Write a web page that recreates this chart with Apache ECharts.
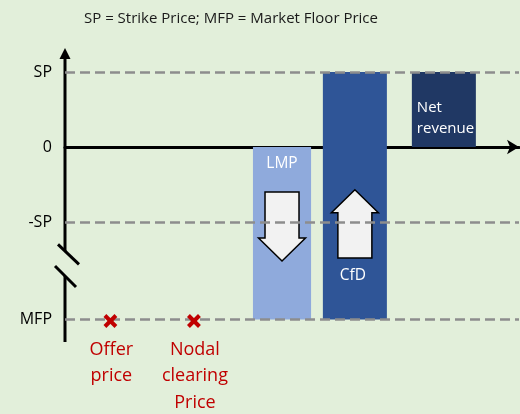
<!DOCTYPE html>
<html>
<head>
<meta charset="utf-8">
<script src="https://cdn.jsdelivr.net/npm/echarts@6/dist/echarts.min.js"></script>
<style>
  html, body { margin: 0; padding: 0; background: #e2efda; }
  #chart { width: 520px; height: 414px; }
</style>
</head>
<body>
<div id="chart"></div>
<script>
// ---------- data ----------
const chartTitle = 'SP = Strike Price; MFP = Market Floor Price';
const yTickNames = ['SP', '0', '-SP', 'MFP'];
const yTickValues = [1, 0, -1, -2.3];
const dashedLevels = [1, -1, -2.3];
const barNames = ['LMP', 'CfD', 'Net\nrevenue'];
const barLows = [-2.3, -2.3, 0];
const barHighs = [0, 1, 1];
const markerNames = ['Offer\nprice', 'Nodal\nclearing\nPrice'];
const markerValues = [-2.3, -2.3];
const arrowFrom = [-0.6, -1.48];
const arrowTo = [-1.52, -0.57];
const axisBreak = [-1.387, -1.72];

// ---------- layout (positions / styles) ----------
const yMin = -2.6, yMax = 1.32;
const barX = [[41.4, 54.2], [56.8, 70.9], [76.4, 90.5]];
const markerX = [10, 28.4];
const barColors = ['#8faadc', '#2f5597', '#203864'];
const barLabelLayout = [
  { anchor: 'top', dy: 17, dx: 0, align: 'center', size: 15.5 },
  { anchor: 'bottom', dy: -44, dx: -2, align: 'center', size: 15.5 },
  { anchor: 'top', dy: 46.5, dx: 5, align: 'left', size: 15 }
];
const FONT = '"Open Sans", "Noto Sans", sans-serif';

const chart = echarts.init(document.getElementById('chart'), null, { renderer: 'canvas' });

const barData = barNames.map((n, i) => [barX[i][0], barX[i][1], barLows[i], barHighs[i], i]);
const markerData = markerNames.map((n, i) => [markerX[i], markerValues[i], i]);
const arrowData = arrowFrom.map((f, i) => [(barX[i][0] + barX[i][1]) / 2, f, arrowTo[i], i]);

const option = {
  backgroundColor: '#e2efda',
  animation: false,
  title: {
    text: chartTitle,
    left: 79, top: 6,
    textStyle: { fontSize: 15, fontWeight: 'normal', color: '#1a1a1a', fontFamily: FONT }
  },
  grid: { left: 65, right: 1, top: 48, bottom: 72 },
  xAxis: {
    type: 'value', min: 0, max: 100,
    axisLine: { show: true, onZero: true, symbol: ['none', 'arrow'], symbolSize: [11, 12],
      lineStyle: { color: '#000', width: 3 } },
    axisTick: { show: false }, axisLabel: { show: false }, splitLine: { show: false }
  },
  yAxis: {
    type: 'value', min: yMin, max: yMax,
    axisLine: { show: false }, axisTick: { show: false }, splitLine: { show: false },
    axisLabel: {
      show: true, customValues: yTickValues, margin: 13,
      fontSize: 16, color: '#000', fontFamily: FONT,
      formatter: function (v) {
        let best = 0;
        yTickValues.forEach((t, i) => { if (Math.abs(t - v) < Math.abs(yTickValues[best] - v)) best = i; });
        return yTickNames[best];
      }
    }
  },
  series: [
    {
      type: 'line', data: [], z: 1, silent: true,
      markLine: {
        silent: true, symbol: ['none', 'none'], label: { show: false },
        lineStyle: { color: '#8d8d8d', width: 2.5, type: [10, 5] },
        data: dashedLevels.map(v => ({ yAxis: v }))
      }
    },
    {
      // y axis with break and arrow
      type: 'custom', z: 2, silent: true, clip: false,
      data: [[0, yMin]],
      encode: { x: 0, y: 1 },
      renderItem: function (params, api) {
        const b = api.coord([0, yMin]);
        const g1 = api.coord([0, axisBreak[1]]);
        const g0 = api.coord([0, axisBreak[0]]);
        const t = api.coord([0, yMax]);
        const x = b[0];
        const ls = { stroke: '#000', lineWidth: 3 };
        return {
          type: 'group',
          children: [
            { type: 'line', shape: { x1: x, y1: b[1], x2: x, y2: g1[1] }, style: ls },
            { type: 'line', shape: { x1: x, y1: g0[1], x2: x, y2: t[1] + 9 }, style: ls },
            { type: 'polygon', shape: { points: [[x, t[1]], [x + 5.5, t[1] + 11], [x - 5.5, t[1] + 11]] },
              style: { fill: '#000' } },
            { type: 'line', shape: { x1: x - 7, y1: g0[1] - 6.7, x2: x + 14, y2: g0[1] + 13.3 }, style: ls },
            { type: 'line', shape: { x1: x - 10, y1: g1[1] - 10, x2: x + 11, y2: g1[1] + 11 }, style: ls }
          ]
        };
      }
    },
    {
      // bars
      type: 'custom', z: 3, silent: true,
      data: barData,
      encode: { x: [0, 1], y: [2, 3] },
      renderItem: function (params, api) {
        const i = api.value(4);
        const p0 = api.coord([api.value(0), api.value(3)]);
        const p1 = api.coord([api.value(1), api.value(2)]);
        const L = barLabelLayout[i];
        const tx = L.align === 'center' ? (p0[0] + p1[0]) / 2 + L.dx : p0[0] + L.dx;
        const ty = (L.anchor === 'top' ? p0[1] : p1[1]) + L.dy;
        return {
          type: 'group',
          children: [
            { type: 'rect', shape: { x: p0[0], y: p0[1], width: p1[0] - p0[0], height: p1[1] - p0[1] },
              style: { fill: barColors[i] } },
            { type: 'text', x: tx, y: ty, z2: 5,
              style: { text: barNames[i], fill: '#fff', font: L.size + 'px ' + FONT,
                align: L.align, verticalAlign: 'middle', lineHeight: 21 } }
          ]
        };
      }
    },
    {
      // arrows inside bars
      type: 'custom', z: 4, silent: true,
      data: arrowData,
      encode: { x: 0, y: [1, 2] },
      renderItem: function (params, api) {
        const a = api.coord([api.value(0), api.value(1)]);
        const b = api.coord([api.value(0), api.value(2)]);
        const cx = a[0];
        const dir = b[1] > a[1] ? 1 : -1;
        const hb = b[1] - dir * 23;
        const bw = 17, hw = 23.5;
        return {
          type: 'polygon',
          shape: { points: [[cx - bw, a[1]], [cx + bw, a[1]], [cx + bw, hb], [cx + hw, hb], [cx, b[1]], [cx - hw, hb], [cx - bw, hb]] },
          style: { fill: '#f2f2f2', stroke: '#000', lineWidth: 1.5, lineJoin: 'miter' }
        };
      }
    },
    {
      // red crosses with labels
      type: 'custom', z: 5, silent: true, clip: false,
      data: markerData,
      encode: { x: 0, y: 1 },
      renderItem: function (params, api) {
        const p = api.coord([api.value(0), api.value(1)]);
        const i = api.value(2);
        const s = 5.5;
        const st = { stroke: '#c00000', lineWidth: 4 };
        const y = p[1] + 1.5;
        return {
          type: 'group',
          children: [
            { type: 'line', shape: { x1: p[0] - s, y1: y - s, x2: p[0] + s, y2: y + s }, style: st },
            { type: 'line', shape: { x1: p[0] - s, y1: y + s, x2: p[0] + s, y2: y - s }, style: st },
            { type: 'text', x: p[0] + 1, y: p[1] + 17,
              style: { text: markerNames[i], fill: '#c00000', font: '18px ' + FONT,
                align: 'center', verticalAlign: 'top', lineHeight: 26.5 } }
          ]
        };
      }
    }
  ]
};
chart.setOption(option);
</script>
</body>
</html>
